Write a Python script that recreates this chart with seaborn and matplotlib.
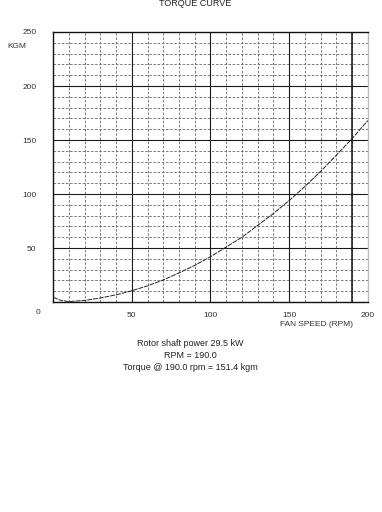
import numpy as np
import pandas as pd
import matplotlib
matplotlib.use("Agg")
import matplotlib.pyplot as plt
import seaborn as sns

# Data
rpm = [0, 5, 10, 20, 30, 40, 50, 60, 70, 80, 90, 100, 110, 120, 130, 140,
       150, 160, 170, 180, 190, 200]
torque = [4.5, 1.5, 0.5, 1.5, 3.8, 6.7, 10.5, 15, 20.5, 27, 34, 42, 51, 60,
          71, 82, 94, 107, 121, 136, 151.4, 168]
x_ticks = [50, 100, 150, 200]
y_ticks = [50, 100, 150, 200, 250]
operating_rpm = 190.0
title = "TORQUE CURVE"
y_label = "KGM"
x_label = "FAN SPEED (RPM)"
notes = ["Rotor shaft power 29.5 kW", "RPM = 190.0",
         "Torque @ 190.0 rpm = 151.4 kgm"]

sns.set_style("white")
plt.rcParams["font.family"] = ["Liberation Sans", "DejaVu Sans"]

fig = plt.figure(figsize=(3.82, 5.12), dpi=100)
ax = fig.add_axes([0.139, 0.410, 0.824, 0.5275])

df = pd.DataFrame({"rpm": rpm, "torque": torque})

ax.set_xlim(0, 200)
ax.set_ylim(0, 250)

# minor dashed grid every 10
for v in range(10, 200, 10):
    if v % 50:
        ax.axvline(v, color="#666666", lw=0.6, ls=(0, (3, 2)), zorder=1)
for v in range(10, 250, 10):
    if v % 50:
        ax.axhline(v, color="#666666", lw=0.6, ls=(0, (3, 2)), zorder=1)
# major solid grid every 50
for v in range(50, 200, 50):
    ax.axvline(v, color="#1a1a1a", lw=0.8, zorder=1)
for v in range(50, 250, 50):
    ax.axhline(v, color="#1a1a1a", lw=0.8, zorder=1)
ax.axvline(operating_rpm, color="#111111", lw=1.1, zorder=1)

sns.lineplot(data=df, x="rpm", y="torque", ax=ax, color="#222222",
             lw=0.7, linestyle=(0, (5, 1)), zorder=3)

ax.set_xticks(x_ticks)
ax.set_yticks(y_ticks)
ax.tick_params(length=0, labelsize=6, colors="#333333")
ax.tick_params(axis="x", pad=7)
ax.tick_params(axis="y", pad=12)
ax.set_xlabel("")
ax.set_ylabel("")
for s in ["left", "top", "bottom"]:
    ax.spines[s].set_color("#111111")
    ax.spines[s].set_linewidth(1.0)
ax.spines["right"].set_color("#bbbbbb")
ax.spines["right"].set_linewidth(1.0)

fig.text(38 / 382, 1 - 313 / 512, "0", fontsize=6, color="#333333",
         ha="center", va="center")
fig.text(195 / 382, 1 - 4 / 512, title, fontsize=6.5, color="#222222",
         ha="center", va="center")
fig.text(17 / 382, 1 - 47 / 512, y_label, fontsize=6, color="#333333",
         ha="center", va="center")
fig.text(317 / 382, 1 - 324 / 512, x_label, fontsize=6, color="#333333",
         ha="center", va="center")
for i, t in enumerate(notes):
    fig.text(190 / 382, 1 - (343 + 12 * i) / 512, t, fontsize=6.5,
             color="#222222", ha="center", va="center")

fig.savefig("out.png", dpi=100)
